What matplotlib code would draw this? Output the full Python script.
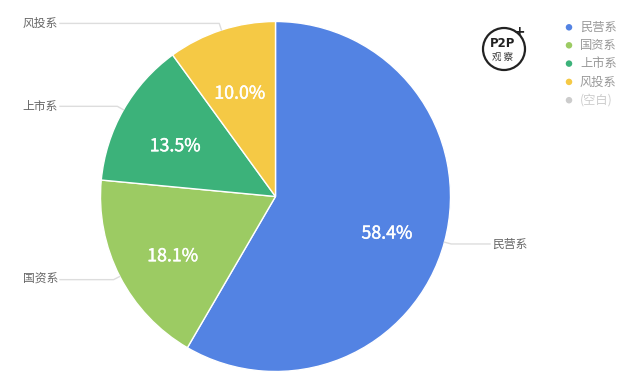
import numpy as np
import matplotlib
matplotlib.use("Agg")
import matplotlib.pyplot as plt
import matplotlib.patheffects as pe

plt.rcParams['font.family'] = ['Noto Sans CJK SC', 'DejaVu Sans']

categories = ['民营系', '国资系', '上市系', '风投系', '(空白)']
shares = [58.4, 18.1, 13.5, 10.0, 0.0]
colors = ['#5383e3', '#9ccb63', '#3cb27a', '#f5c945', '#cccccc']

W, H = 640, 374
fig = plt.figure(figsize=(6.4, 3.74), dpi=100)

# pie axes: centre (275.5, 196.5) px, radius 175 px
cx, cy, R = 275.5, 196.5, 175.0
ax = fig.add_axes([(cx - R) / W, (H - cy - R) / H, 2 * R / W, 2 * R / H])

vals = [v for v in shares if v > 0]
cols = [c for c, v in zip(colors, shares) if v > 0]
names = [n for n, v in zip(categories, shares) if v > 0]

wedges, texts = ax.pie(vals, colors=cols, startangle=90, counterclock=False,
                       radius=1, wedgeprops=dict(edgecolor='white', linewidth=1),
                       labels=['%.1f%%' % v for v in vals], labeldistance=0.66,
                       textprops=dict(color='white', fontsize=12.8, ha='center', va='center'))
for t in texts:
    x, y = t.get_position()
    t.set_position((x, y - 7 / R))
    t.set_path_effects([pe.withStroke(linewidth=0.3, foreground='white')])
ax.set_xlim(-1, 1)
ax.set_ylim(-1, 1)
ax.axis('off')

# leader lines and outside labels
xl = (60 - cx) / R
xr = (490 - cx) / R
for w, n in zip(wedges, names):
    ang = np.deg2rad((w.theta1 + w.theta2) / 2)
    x0, y0 = np.cos(ang), np.sin(ang)
    x1, y1 = 1.04 * x0, 1.04 * y0
    xe = xr if x0 > 0 else xl
    ax.plot([x0, x1, xe], [y0, y1, y1], color='#dddddd', lw=1, clip_on=False)
    if x0 > 0:
        ax.text(xe + 2 / R, y1, n, ha='left', va='center', fontsize=8.5, color='#666666')
    else:
        ax.text(xe - 2 / R, y1, n, ha='right', va='center', fontsize=8.5, color='#666666')

# overlay in pixel coords for legend and logo
ov = fig.add_axes([0, 0, 1, 1])
ov.set_xlim(0, W)
ov.set_ylim(H, 0)
ov.axis('off')

ys = [27.3, 45.3, 63.6, 81.9, 100.2]
for y, n, c in zip(ys, categories, colors):
    ov.scatter([569], [y], s=22, color=c, edgecolors='none')
    ov.text(580, y, n, ha='left', va='center', fontsize=8.8,
            color='#cccccc' if n == '(空白)' else '#999999')

# logo
ov.add_patch(plt.Circle((504, 49), 21, fill=False, lw=1.6, color='#222222'))
ov.text(503, 43, 'P2P', ha='center', va='center', fontsize=8.5, fontweight='bold',
        color='#222222', family='DejaVu Sans')
ov.text(503, 57, '观 察', ha='center', va='center', fontsize=6.8, color='#333333')
ov.text(519, 32, '+', ha='center', va='center', fontsize=10, fontweight='bold',
        color='#222222', family='DejaVu Sans')

fig.savefig('out.png', dpi=100)
